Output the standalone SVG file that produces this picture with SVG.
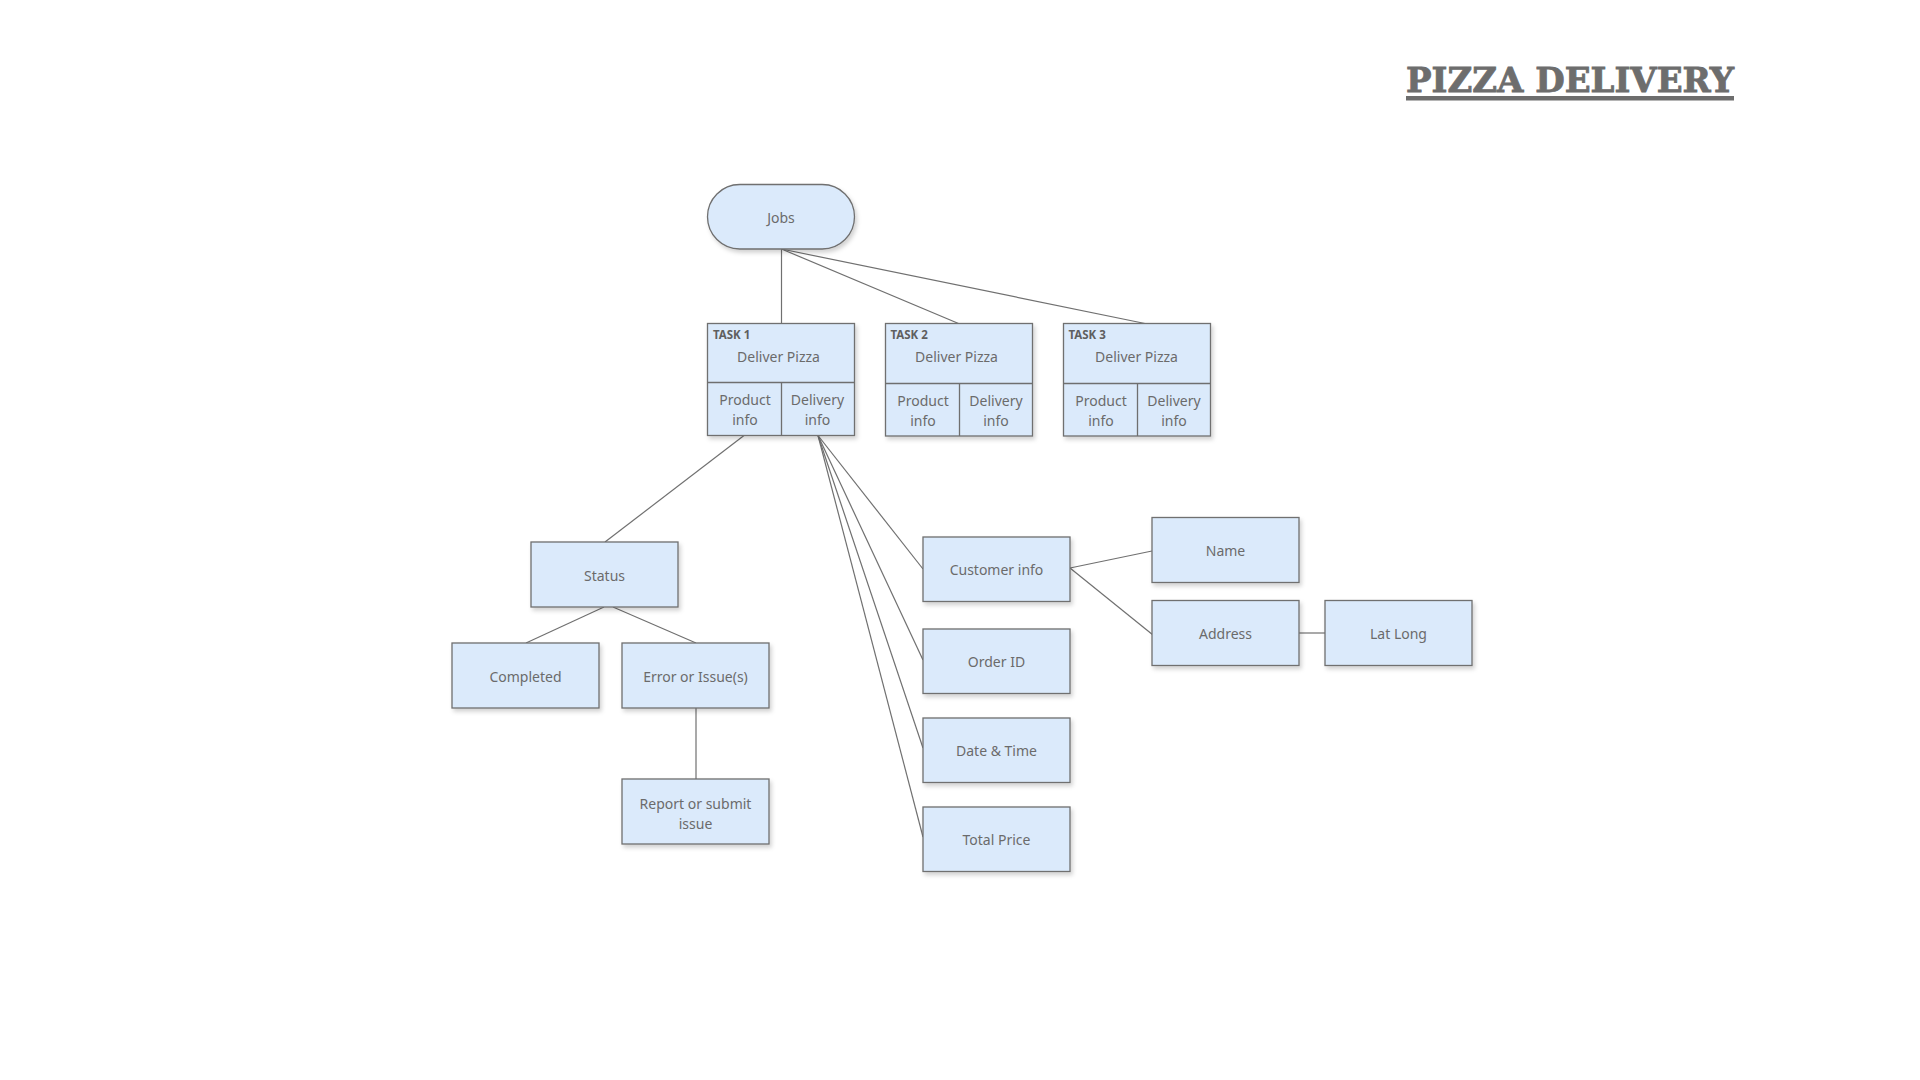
<svg xmlns="http://www.w3.org/2000/svg" width="1920" height="1080" viewBox="0 0 1920 1080">
  <defs>
    <filter id="sh" x="-10%" y="-10%" width="130%" height="140%">
      <feDropShadow dx="2" dy="3" stdDeviation="2" flood-color="#000" flood-opacity="0.18"/>
    </filter>
  </defs>
  <style>
    .box { fill: #dbeafb; stroke: #6f6f6f; stroke-width: 1.3; }
    .div { stroke: #6f6f6f; stroke-width: 1.3; fill: none; }
    .lbl { font-family: "Noto Sans", "Open Sans", sans-serif; font-size: 14px; fill: #6b6b6b; text-anchor: middle; }
    .tsk { font-family: "Noto Sans", "Open Sans", sans-serif; font-size: 11.5px; font-weight: bold; fill: #5f5f5f; }
    .conn line { stroke: #707070; stroke-width: 1.2; fill: none; }
    .title { font-family: "DejaVu Serif", "Liberation Serif", serif; font-weight: bold; font-size: 33px; fill: #6d6d6d; stroke: #6d6d6d; stroke-width: 0.8; }
  </style>
  <rect width="1920" height="1080" fill="#ffffff"/>

  <g id="title">
    <text class="title" x="1406" y="92" textLength="328" lengthAdjust="spacingAndGlyphs">PIZZA DELIVERY</text>
    <rect x="1406" y="96" width="328" height="4.5" fill="#6d6d6d"/>
  </g>

  <g id="connectors" class="conn">
    <line x1="781.5" y1="249" x2="781.5" y2="323.5"/>
    <line x1="781.5" y1="249" x2="958.5" y2="323.5"/>
    <line x1="781.5" y1="249" x2="1145" y2="323.5"/>
    <line x1="744" y1="435.5" x2="605" y2="542"/>
    <line x1="818" y1="435.5" x2="923" y2="569"/>
    <line x1="818" y1="435.5" x2="923" y2="660"/>
    <line x1="818" y1="435.5" x2="923" y2="748"/>
    <line x1="818" y1="435.5" x2="923" y2="837"/>
    <line x1="604" y1="607" x2="526" y2="643"/>
    <line x1="613" y1="607" x2="696" y2="643"/>
    <line x1="696" y1="708" x2="696" y2="779"/>
    <line x1="1070" y1="568" x2="1152" y2="551"/>
    <line x1="1070" y1="568" x2="1153" y2="635"/>
    <line x1="1299" y1="633" x2="1325" y2="633"/>
  </g>

  <g id="jobs">
    <rect class="box" filter="url(#sh)" x="707.5" y="184.5" width="147" height="64.5" rx="32.25" ry="32.25"/>
    <text class="lbl" x="781" y="222.5">Jobs</text>
  </g>

  <g id="task1">
    <rect class="box" filter="url(#sh)" x="707.5" y="323.5" width="147" height="112"/>
    <line class="div" x1="707.5" y1="382.5" x2="854.5" y2="382.5"/>
    <line class="div" x1="781.5" y1="382.5" x2="781.5" y2="435.5"/>
    <text class="tsk" x="713" y="339">TASK 1</text>
    <text class="lbl" x="778.5" y="361.5">Deliver Pizza</text>
    <text class="lbl" x="745" y="405">Product</text>
    <text class="lbl" x="745" y="425">info</text>
    <text class="lbl" x="817.5" y="405">Delivery</text>
    <text class="lbl" x="817.5" y="425">info</text>
  </g>

  <g id="task2">
    <rect class="box" filter="url(#sh)" x="885.5" y="323.5" width="147" height="112.5"/>
    <line class="div" x1="885.5" y1="383.5" x2="1032.5" y2="383.5"/>
    <line class="div" x1="959.5" y1="383.5" x2="959.5" y2="436"/>
    <text class="tsk" x="890.5" y="339">TASK 2</text>
    <text class="lbl" x="956.5" y="361.5">Deliver Pizza</text>
    <text class="lbl" x="923" y="406">Product</text>
    <text class="lbl" x="923" y="426">info</text>
    <text class="lbl" x="996" y="406">Delivery</text>
    <text class="lbl" x="996" y="426">info</text>
  </g>

  <g id="task3">
    <rect class="box" filter="url(#sh)" x="1063.5" y="323.5" width="147" height="112.5"/>
    <line class="div" x1="1063.5" y1="383.5" x2="1210.5" y2="383.5"/>
    <line class="div" x1="1137.5" y1="383.5" x2="1137.5" y2="436"/>
    <text class="tsk" x="1068.5" y="339">TASK 3</text>
    <text class="lbl" x="1136.5" y="361.5">Deliver Pizza</text>
    <text class="lbl" x="1101" y="406">Product</text>
    <text class="lbl" x="1101" y="426">info</text>
    <text class="lbl" x="1174" y="406">Delivery</text>
    <text class="lbl" x="1174" y="426">info</text>
  </g>

  <g id="status">
    <rect class="box" filter="url(#sh)" x="531" y="542" width="147" height="65"/>
    <text class="lbl" x="604.5" y="580.5">Status</text>
  </g>
  <g id="completed">
    <rect class="box" filter="url(#sh)" x="452" y="643" width="147" height="65"/>
    <text class="lbl" x="525.5" y="681.5">Completed</text>
  </g>
  <g id="error">
    <rect class="box" filter="url(#sh)" x="622" y="643" width="147" height="65"/>
    <text class="lbl" x="695.5" y="681.5">Error or Issue(s)</text>
  </g>
  <g id="report">
    <rect class="box" filter="url(#sh)" x="622" y="779" width="147" height="65"/>
    <text class="lbl" x="695.5" y="809">Report or submit</text>
    <text class="lbl" x="695.5" y="829">issue</text>
  </g>

  <g id="customer-info">
    <rect class="box" filter="url(#sh)" x="923" y="537" width="147" height="64.5"/>
    <text class="lbl" x="996.5" y="575">Customer info</text>
  </g>
  <g id="order-id">
    <rect class="box" filter="url(#sh)" x="923" y="629" width="147" height="64.5"/>
    <text class="lbl" x="996.5" y="666.5">Order ID</text>
  </g>
  <g id="date-time">
    <rect class="box" filter="url(#sh)" x="923" y="718" width="147" height="64.5"/>
    <text class="lbl" x="996.5" y="755.5">Date &amp; Time</text>
  </g>
  <g id="total-price">
    <rect class="box" filter="url(#sh)" x="923" y="807" width="147" height="64.5"/>
    <text class="lbl" x="996.5" y="844.5">Total Price</text>
  </g>

  <g id="name">
    <rect class="box" filter="url(#sh)" x="1152" y="517.5" width="147" height="65"/>
    <text class="lbl" x="1225.5" y="555.5">Name</text>
  </g>
  <g id="address">
    <rect class="box" filter="url(#sh)" x="1152" y="600.5" width="147" height="65"/>
    <text class="lbl" x="1225.5" y="638.5">Address</text>
  </g>
  <g id="lat-long">
    <rect class="box" filter="url(#sh)" x="1325" y="600.5" width="147" height="65"/>
    <text class="lbl" x="1398.5" y="638.5">Lat Long</text>
  </g>
</svg>
